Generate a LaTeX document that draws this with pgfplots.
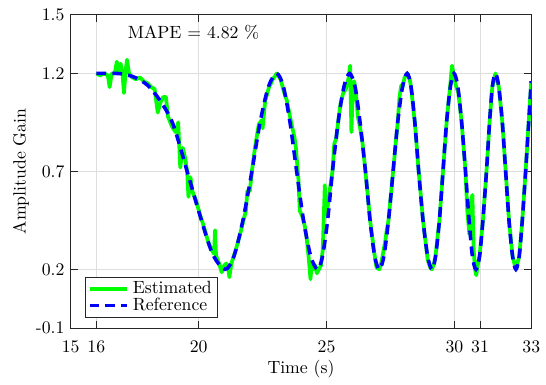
\documentclass[border=0pt]{standalone}
\usepackage{pgfplots}
\pgfplotsset{compat=1.18}
\definecolor{axgray}{rgb}{0.15,0.15,0.15}
\definecolor{gridgray}{rgb}{0.87,0.87,0.87}
\begin{document}
\begin{tikzpicture}
\begin{axis}[
  name=main,
  scale only axis,
  width=260pt, height=177pt,
  xmin=15, xmax=33, ymin=-0.1, ymax=1.5,
  xtick={15,16,20,25,30,31,33},
  ytick={-0.1,0.2,0.7,1.2,1.5},
  yticklabels={{-0.1},{0.2},{0.7},{1.2},{1.5}},
  grid=major,
  major grid style={gridgray, line width=0.5pt},
  axis line style={axgray, line width=0.6pt},
  tick style={axgray, line width=0.6pt},
  tick align=inside,
  xticklabel style={yshift=-4pt},
  xlabel={Time (s)},
  xlabel style={yshift=2.5pt},
  ylabel={Amplitude Gain},
  ylabel style={yshift=-3pt},
  legend style={at={(0.032,0.032)}, anchor=south west, draw=axgray, line width=0.5pt, font=\normalsize, inner xsep=1pt, inner ysep=0.5pt, row sep=-3pt},
  legend cell align=left,
  legend image code/.code={\draw[#1] (0.05cm,0cm) -- (0.8cm,0cm);},
]
\addplot[color={rgb,1:red,0;green,1;blue,0}, line width=2.1pt, line join=round] coordinates {
(16.0,1.2) (16.15,1.19) (16.3,1.2) (16.45,1.19) (16.52,1.13) (16.6,1.2) (16.72,1.2) (16.8,1.26) (16.88,1.21) (16.95,1.25)
(17.02,1.2) (17.08,1.1) (17.15,1.22) (17.2,1.27) (17.28,1.2) (17.4,1.18) (17.55,1.17) (17.7,1.18) (17.85,1.16) (18.0,1.15)
(18.15,1.13) (18.28,1.12) (18.4,1.0) (18.5,1.05) (18.62,1.08) (18.72,1.08) (18.8,0.98) (18.95,0.93) (19.1,0.9) (19.2,0.95)
(19.28,0.72) (19.38,0.82) (19.47,0.77) (19.55,0.7) (19.6,0.57) (19.68,0.67) (19.75,0.6) (19.9,0.55) (20.05,0.48) (20.2,0.42)
(20.35,0.35) (20.5,0.3) (20.6,0.28) (20.64,0.4) (20.68,0.27) (20.8,0.23) (20.9,0.185) (21.0,0.22) (21.08,0.23) (21.15,0.21)
(21.2,0.16) (21.28,0.23) (21.45,0.3) (21.6,0.37) (21.75,0.45) (21.85,0.5) (21.9,0.6) (22.0,0.6) (22.08,0.7) (22.2,0.82)
(22.35,0.94) (22.45,0.96) (22.5,0.92) (22.6,1.06) (22.75,1.13) (22.9,1.17) (23.05,1.2) (23.2,1.17) (23.35,1.1) (23.45,1.06)
(23.6,0.96) (23.75,0.87) (23.8,0.82) (23.85,0.74) (23.9,0.66) (23.95,0.5) (24.05,0.47) (24.15,0.42) (24.22,0.36) (24.3,0.26)
(24.34,0.2) (24.37,0.15) (24.42,0.23) (24.5,0.2) (24.56,0.22) (24.62,0.18) (24.7,0.2) (24.78,0.22) (24.85,0.3) (24.93,0.63)
(24.97,0.48) (25.04,0.52) (25.12,0.6) (25.23,0.7) (25.3,0.84) (25.38,0.87) (25.45,0.95) (25.55,1.05) (25.65,1.1) (25.75,1.12)
(25.85,1.17) (25.92,1.24) (25.97,0.9) (26.02,1.1) (26.08,1.16) (26.15,1.1) (26.22,0.98) (26.3,0.93) (26.4,0.85) (26.52,0.7)
(26.7,0.45) (26.88,0.27) (26.95,0.21) (27.06,0.2) (27.15,0.24) (27.3,0.35) (27.35,0.4) (27.42,0.45) (27.6,0.7) (27.78,0.95)
(27.85,1.08) (27.92,1.14) (27.97,1.13) (28.05,1.18) (28.15,1.2) (28.25,1.17) (28.3,1.13) (28.45,0.95) (28.6,0.7) (28.77,0.45)
(28.95,0.25) (29.05,0.21) (29.12,0.2) (29.2,0.23) (29.26,0.27) (29.41,0.45) (29.55,0.7) (29.69,0.95) (29.84,1.15) (29.9,1.24)
(29.96,1.2) (30.05,1.14) (30.15,1.1) (30.28,0.95) (30.43,0.7) (30.5,0.5) (30.58,0.38) (30.65,0.55) (30.7,0.58) (30.75,0.3)
(30.8,0.2) (30.85,0.17) (30.92,0.23) (30.98,0.27) (31.11,0.45) (31.25,0.7) (31.37,0.95) (31.48,1.133) (31.6,1.2) (31.73,1.133)
(31.87,0.95) (32.0,0.7) (32.13,0.45) (32.27,0.267) (32.4,0.2) (32.53,0.267) (32.65,0.45) (32.78,0.7) (32.9,0.95) (33.0,1.16)
};
\addlegendentry{Estimated}
\addplot[color={rgb,1:red,0;green,0;blue,1}, line width=2pt, dash pattern=on 5.5pt off 3.5pt, smooth, tension=0.5] coordinates {
(16.0,1.2) (16.5,1.2) (17.0,1.198) (17.5,1.18) (18.0,1.14) (18.5,1.06) (19.0,0.94) (19.55,0.7) (20.04,0.48) (20.54,0.28)
(21.03,0.2) (21.38,0.267) (21.73,0.45) (22.08,0.7) (22.40,0.95) (22.73,1.133) (23.05,1.2) (23.31,1.133) (23.57,0.95) (23.83,0.7)
(24.10,0.45) (24.38,0.267) (24.65,0.2) (24.84,0.267) (25.04,0.45) (25.23,0.7) (25.45,0.95) (25.68,1.133) (25.9,1.2) (26.11,1.133)
(26.31,0.95) (26.52,0.7) (26.70,0.45) (26.88,0.267) (27.06,0.2) (27.24,0.267) (27.42,0.45) (27.6,0.7) (27.78,0.95) (27.97,1.133)
(28.15,1.2) (28.30,1.133) (28.45,0.95) (28.6,0.7) (28.77,0.45) (28.95,0.267) (29.12,0.2) (29.26,0.267) (29.41,0.45) (29.55,0.7)
(29.69,0.95) (29.84,1.133) (29.98,1.2) (30.13,1.133) (30.28,0.95) (30.43,0.7) (30.57,0.45) (30.70,0.267) (30.84,0.2) (30.98,0.267)
(31.11,0.45) (31.25,0.7) (31.37,0.95) (31.48,1.133) (31.6,1.2) (31.73,1.133) (31.87,0.95) (32.0,0.7) (32.13,0.45) (32.27,0.267)
(32.4,0.2) (32.53,0.267) (32.65,0.45) (32.78,0.7) (32.9,0.95) (33.0,1.16)
};
\addlegendentry{Reference}
\node[font=\normalsize, text=black] at (axis cs:19.8,1.41) {MAPE $=$ 4.82 \%};
\end{axis}
\path ([xshift=-4pt]current bounding box.west);
\path ([yshift=1.5pt]current bounding box.north);
\end{tikzpicture}
\end{document}
